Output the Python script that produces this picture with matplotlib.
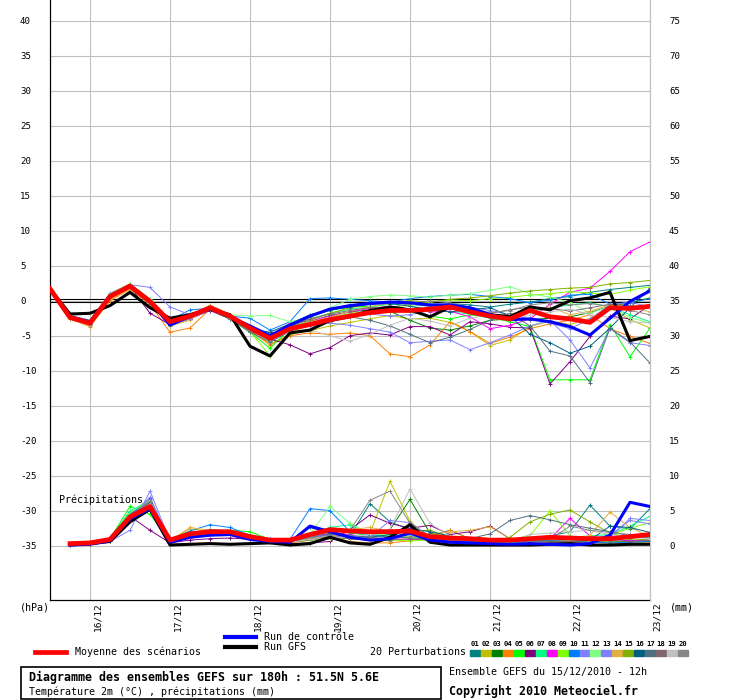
import matplotlib
matplotlib.use("Agg")
import matplotlib.pyplot as plt
import matplotlib.transforms as mtransforms
from matplotlib.lines import Line2D
from matplotlib.patches import Rectangle
import numpy as np

W, H = 740, 700  # figure size in pixels

# time axis: run of 15/12/2010 12h, every 6h up to 180h
hours = np.arange(0, 181, 6)
day_hours = np.arange(12, 181, 24)
day_labels = ["16/12", "17/12", "18/12", "19/12", "20/12", "21/12", "22/12", "23/12"]

temp_ticks = list(range(-35, 41, 5))
precip_ticks = list(range(0, 76, 5))

member_names = ["01", "02", "03", "04", "05", "06", "07", "08", "09", "10",
                "11", "12", "13", "14", "15", "16", "17", "18", "19", "20"]
member_colors = ["#008080", "#c0c000", "#008000", "#ff8000", "#00ff00",
                 "#800080", "#00ff80", "#ff00ff", "#80ff00", "#0080ff",
                 "#8080ff", "#80ff80", "#8080ff", "#e0b040", "#80b000",
                 "#006080", "#507080", "#806870", "#c0c0c0", "#888888"]

# 2m temperature (°C), 31 steps
temp_mean = [1.7, -2.4, -3.2, 0.6, 2.1, -0.1, -3.0, -2.2, -1.0, -2.2, -3.9,
             -5.4, -4.0, -3.4, -2.7, -2.2, -1.7, -1.4, -1.4, -1.2, -0.9,
             -1.6, -2.2, -2.6, -1.4, -2.3, -2.6, -3.1, -1.0, -1.1, -0.8]
temp_gfs = [1.7, -1.9, -1.8, -0.7, 1.2, -1.0, -2.5, -2.0, -1.2, -2.0, -6.5,
            -7.9, -4.6, -4.2, -2.8, -2.3, -1.4, -0.9, -1.3, -2.3, -0.9,
            -1.3, -2.0, -2.3, -0.9, -1.3, 0.0, 0.4, 1.2, -5.7, -5.1]
temp_ctrl = [1.7, -2.3, -3.0, 0.7, 2.1, 0.0, -3.5, -2.2, -1.0, -2.3, -3.6,
             -5.0, -3.5, -2.2, -1.2, -0.7, -0.4, -0.2, -0.3, -0.6, -0.6,
             -1.0, -2.0, -2.7, -2.6, -3.0, -3.7, -4.9, -2.5, -0.1, 1.4]

t01 = [1.7, -2.2, -3.0, 0.9, 2.3, 0.2, -3.3, -2.3, -1.1, -2.3, -4.0, -5.3, -3.6, -2.3, -1.2, -0.6,
       -0.3, -0.2, -0.5, -0.8, -0.4, -0.6, -0.9, -0.5, -0.2, 0.3, 0.6, 1.2, 1.6, 1.9, 2.2]
t02 = [1.7, -2.5, -3.5, 0.3, 1.8, -0.6, -3.5, -2.6, -1.3, -2.6, -4.3, -6.2, -4.8, -4.3, -3.6, -3.1,
       -2.6, -2.1, -2.6, -2.5, -3.1, -4.4, -6.4, -5.6, -3.7, -2.9, -3.4, -2.5, -1.0, -2.7, -3.9]
t03 = [1.7, -2.3, -3.1, 0.7, 2.2, -0.2, -3.1, -2.3, -1.0, -2.4, -4.0, -5.7, -4.2, -3.0, -2.1, -1.6,
       -1.3, -1.5, -2.8, -3.9, -4.2, -3.6, -2.8, -2.6, -2.7, -2.5, -2.3, -1.7, -0.8, -0.3, 0.4]
t04 = [1.7, -2.6, -3.7, 0.0, 1.6, -0.5, -4.5, -3.9, -1.2, -2.5, -4.3, -6.3, -5.0, -4.6, -4.8, -4.6,
       -5.0, -7.6, -8.0, -6.3, -3.0, -4.4, -6.1, -5.2, -4.0, -3.3, -2.8, -2.0, -4.0, -5.1, -6.1]
t05 = [1.7, -2.3, -2.9, 1.0, 2.4, 0.0, -3.6, -2.5, -1.3, -2.6, -4.5, -6.8, -4.0, -2.2, -1.4, -0.9,
       -0.8, -1.2, -1.6, -2.2, -2.6, -2.0, -2.4, -3.0, -3.7, -11.3, -11.3, -11.3, -3.4, -8.0, -3.9]
t06 = [1.7, -2.4, -3.3, 0.7, 2.0, -1.8, -3.4, -2.6, -1.4, -2.6, -4.3, -5.5, -6.3, -7.6, -6.7, -5.0,
       -4.6, -4.9, -3.7, -3.7, -4.9, -3.0, -3.3, -3.8, -3.9, -11.9, -8.7, -5.1, -2.2, -2.6, -0.6]
t07 = [1.7, -2.3, -3.1, 0.8, 2.2, 0.1, -3.2, -2.4, -1.0, -2.3, -4.0, -5.8, -3.5, -2.6, -1.8, -1.2,
       -0.9, -0.5, -0.7, -1.3, -1.6, -1.9, -2.5, -2.2, -1.6, -1.0, -0.6, -0.3, -0.9, -2.0, -3.0]
t08 = [1.7, -2.4, -3.2, 0.6, 2.1, -0.3, -3.3, -2.2, -0.9, -2.1, -3.8, -5.0, -3.2, -2.9, -2.2, -1.6,
       -1.1, -0.8, -1.2, -1.6, -1.5, -2.3, -4.0, -3.5, -2.6, -0.5, 1.2, 1.8, 4.2, 7.0, 8.4]
t09 = [1.7, -2.5, -3.4, 0.5, 2.0, -0.4, -3.4, -2.5, -1.2, -2.5, -4.4, -7.9, -4.6, -3.4, -2.4, -1.8,
       -1.5, -1.0, -0.6, -0.2, 0.1, 0.0, 0.3, 0.5, 0.8, 1.0, 1.3, 1.1, 0.9, 1.5, 2.0]
t10 = [1.7, -2.2, -2.9, 0.9, 2.3, 0.1, -2.8, -1.3, -1.1, -2.2, -2.5, -4.2, -3.0, 0.3, 0.4, 0.2,
       0.0, -0.2, 0.3, 0.6, 0.8, 0.9, 0.6, 0.3, -0.3, 0.1, 0.8, 0.9, -0.5, -0.3, 0.3]
t11 = [1.7, -2.1, -2.8, 1.1, 2.3, 1.9, -0.9, -2.0, -1.2, -2.0, -3.8, -4.6, -4.3, -3.6, -3.2, -3.5,
       -4.0, -4.5, -6.0, -5.8, -5.6, -7.0, -6.0, -4.9, -3.6, -2.8, -5.6, -9.6, -4.0, -6.0, -6.4]
t12 = [1.7, -2.2, -2.8, 1.0, 2.4, 0.3, -3.0, -2.0, -0.8, -2.0, -2.2, -2.1, -3.0, -2.4, -1.0, 0.2,
       0.6, 0.8, 0.7, 0.5, 0.8, 1.0, 1.5, 2.0, 1.0, 0.5, -0.2, -1.8, -0.8, -2.4, -3.2]
t13 = [1.7, -2.4, -3.3, 0.5, 2.0, -0.5, -3.4, -2.6, -1.3, -2.4, -4.3, -5.2, -4.2, -3.1, -2.5, -2.0,
       -1.9, -2.2, -2.0, -1.4, -1.0, -0.9, -1.4, -2.0, -2.6, -3.2, -4.0, -2.6, -0.6, -0.2, -0.9]
t14 = [1.7, -2.6, -3.6, 0.1, 1.7, -0.3, -3.6, -2.8, -0.6, -2.0, -3.7, -5.0, -3.9, -3.0, -2.4, -1.5,
       -0.8, -0.4, -0.2, -0.6, -0.8, -1.7, -2.0, -1.9, -1.3, -0.9, -2.0, -1.5, -0.6, -0.9, -1.6]
t15 = [1.7, -2.3, -3.1, 0.7, 2.2, -0.1, -3.1, -2.2, -1.0, -2.2, -3.9, -5.6, -3.9, -2.8, -1.8, -1.0,
       -0.5, -0.2, 0.0, -0.2, 0.2, 0.4, 0.7, 1.1, 1.4, 1.6, 1.8, 1.9, 2.4, 2.6, 2.9]
t16 = [1.7, -2.4, -3.2, 0.6, 2.2, 0.0, -3.2, -2.3, -1.1, -2.5, -4.1, -4.5, -3.3, -2.0, -1.3, -0.9,
       -0.5, -0.4, -0.8, -1.3, -1.6, -1.3, -1.0, -2.2, -4.8, -6.0, -7.5, -6.5, -3.9, -1.0, 1.8]
t17 = [1.7, -2.4, -3.3, 0.5, 2.0, -0.4, -3.3, -2.4, -1.2, -2.6, -4.5, -5.9, -4.4, -3.2, -2.6, -2.3,
       -2.8, -3.6, -4.8, -6.0, -5.2, -4.1, -2.8, -1.8, -3.6, -7.2, -7.9, -11.7, -3.9, -5.9, -8.9]
t18 = [1.7, -2.3, -3.1, 0.8, 2.1, -0.2, -3.1, -2.2, -1.0, -2.3, -4.0, -5.3, -3.7, -2.6, -1.9, -1.4,
       -1.0, -0.9, -1.2, -1.5, -1.2, -1.4, -1.8, -1.3, -0.9, -1.1, -1.5, -1.0, -0.5, -0.7, -0.9]
t19 = [1.7, -2.4, -3.2, 0.6, 2.1, -0.3, -3.2, -2.3, -1.1, -2.4, -4.1, -5.4, -4.5, -4.2, -5.0, -5.8,
       -4.8, -3.5, -2.5, -2.9, -3.6, -2.5, -2.0, -2.6, -2.1, -1.6, -1.2, -2.0, -2.4, -3.0, -3.2]
t20 = [1.7, -2.5, -3.4, 0.4, 2.0, -0.2, -3.5, -2.4, -1.1, -2.3, -4.2, -4.9, -3.9, -3.5, -3.1, -2.2,
       -1.6, -1.0, -0.4, 0.0, -0.3, -1.0, -1.7, -1.4, -0.6, -0.3, -0.6, -0.4, -0.8, -1.4, -2.0]
temp_members = [t01, t02, t03, t04, t05, t06, t07, t08, t09, t10,
                t11, t12, t13, t14, t15, t16, t17, t18, t19, t20]

# 6h precipitation (mm), steps 6h..180h
precip_mean = [0.3, 0.4, 0.9, 4.1, 5.6, 0.8, 1.7, 2.0, 2.0, 1.3, 0.8, 0.8, 1.6, 2.3, 2.1,
               2.0, 2.0, 2.1, 1.3, 1.1, 1.0, 0.8, 0.8, 1.0, 1.2, 1.1, 1.0, 1.0, 1.3, 1.6]
precip_gfs = [0.1, 0.3, 0.6, 3.4, 5.2, 0.1, 0.2, 0.3, 0.2, 0.3, 0.4, 0.1, 0.3, 1.2, 0.4,
              0.2, 1.2, 3.0, 0.5, 0.1, 0.1, 0.1, 0.1, 0.1, 0.2, 0.3, 0.1, 0.1, 0.2, 0.2]
precip_ctrl = [0.1, 0.2, 0.7, 3.8, 5.3, 0.5, 1.2, 1.5, 1.6, 0.9, 0.6, 0.5, 2.8, 2.0, 1.2,
               0.8, 1.0, 1.8, 0.8, 0.5, 0.4, 0.3, 0.2, 0.3, 0.2, 0.1, 0.3, 1.5, 6.2, 5.6]

p01 = [0.2, 0.4, 0.9, 4.5, 6.8, 0.6, 1.6, 2.3, 2.1, 1.2, 0.9, 0.7, 1.2, 2.0, 1.4,
       6.0, 3.4, 2.3, 1.4, 2.2, 1.0, 0.7, 0.8, 1.0, 1.4, 2.0, 5.8, 2.8, 2.4, 5.3]
p02 = [0.2, 0.4, 0.8, 4.4, 6.2, 0.7, 2.4, 2.1, 1.8, 1.3, 0.8, 0.6, 1.0, 1.4, 2.0,
       1.8, 9.2, 3.5, 1.0, 0.8, 0.6, 0.5, 0.6, 0.8, 1.0, 0.9, 0.8, 0.7, 0.6, 0.5]
p03 = [0.2, 0.3, 1.0, 4.8, 6.0, 0.6, 1.5, 1.9, 1.7, 1.0, 0.7, 0.5, 1.5, 1.6, 1.2,
       1.0, 2.3, 6.6, 1.8, 1.2, 0.6, 0.4, 0.5, 0.6, 0.7, 0.6, 0.5, 0.6, 0.7, 0.8]
p04 = [0.2, 0.3, 0.6, 3.6, 5.7, 0.5, 1.1, 1.9, 1.8, 1.1, 0.6, 0.4, 0.8, 1.2, 0.6,
       0.4, 0.4, 0.7, 1.2, 2.2, 1.0, 0.6, 0.4, 0.3, 0.4, 0.5, 0.5, 0.4, 0.3, 0.4]
p05 = [0.2, 0.4, 1.0, 5.6, 4.5, 0.6, 1.5, 2.0, 2.2, 2.0, 0.9, 0.6, 1.4, 2.4, 1.8,
       1.5, 1.4, 1.2, 1.7, 0.9, 0.5, 0.4, 0.5, 0.6, 0.8, 0.7, 0.6, 0.5, 0.5, 0.6]
p06 = [0.1, 0.3, 0.6, 4.2, 2.2, 0.4, 0.8, 1.0, 1.1, 0.9, 0.5, 0.3, 0.4, 0.6, 2.3,
       4.4, 3.2, 2.5, 2.9, 1.6, 2.0, 2.8, 1.0, 0.7, 0.6, 0.6, 0.8, 0.9, 0.7, 0.7]
p07 = [0.2, 0.4, 0.9, 5.0, 6.4, 0.7, 1.7, 2.2, 2.1, 1.4, 0.9, 0.7, 1.6, 2.6, 3.0,
       1.6, 1.4, 1.3, 1.0, 0.8, 0.7, 0.6, 0.8, 0.9, 1.0, 1.2, 1.4, 1.6, 2.8, 4.2]
p08 = [0.2, 0.4, 0.8, 4.3, 6.6, 0.7, 1.8, 2.0, 1.9, 1.3, 0.9, 0.7, 1.2, 1.8, 1.6,
       1.1, 1.0, 0.9, 1.0, 0.8, 0.7, 0.6, 0.7, 0.9, 1.0, 3.9, 1.4, 0.8, 0.8, 0.6]
p09 = [0.2, 0.4, 0.8, 4.0, 5.4, 0.6, 1.5, 1.8, 1.9, 1.6, 0.7, 0.5, 0.8, 1.0, 1.2,
       1.0, 0.8, 0.7, 0.8, 0.6, 0.5, 0.6, 0.8, 1.4, 5.0, 1.4, 0.9, 1.5, 2.5, 3.3]
p10 = [0.2, 0.4, 0.9, 4.6, 6.3, 0.8, 2.1, 3.0, 2.6, 1.5, 1.0, 0.9, 5.3, 5.0, 2.0,
       1.5, 1.2, 1.4, 0.9, 0.6, 0.5, 0.4, 0.6, 0.7, 0.5, 0.6, 0.5, 0.4, 0.5, 0.6]
p11 = [0.2, 0.3, 0.6, 2.2, 7.8, 0.7, 1.4, 1.8, 1.7, 1.2, 0.7, 0.5, 0.9, 1.3, 1.5,
       1.3, 2.2, 2.0, 1.4, 1.0, 0.8, 0.6, 0.5, 0.6, 0.7, 0.8, 0.9, 1.2, 3.9, 3.6]
p12 = [0.2, 0.4, 0.9, 4.7, 6.5, 0.7, 1.6, 2.0, 1.9, 1.3, 0.8, 0.6, 1.6, 5.6, 3.2,
       1.7, 1.5, 1.2, 1.0, 0.7, 0.6, 0.5, 0.6, 0.8, 0.9, 0.8, 0.7, 0.6, 1.0, 1.9]
p13 = [0.2, 0.4, 0.8, 3.8, 6.9, 0.6, 1.4, 1.9, 1.8, 1.2, 0.7, 0.6, 1.1, 1.5, 1.3,
       1.2, 3.6, 3.3, 1.3, 0.9, 0.6, 0.5, 0.7, 0.8, 1.1, 1.2, 1.0, 1.5, 3.6, 3.1]
p14 = [0.2, 0.4, 0.8, 4.2, 6.0, 0.7, 2.6, 2.2, 1.9, 1.2, 0.8, 0.6, 1.0, 1.2, 2.3,
       2.6, 2.1, 1.2, 1.6, 2.0, 2.2, 2.7, 1.0, 0.5, 0.6, 0.7, 1.5, 4.8, 2.6, 1.3]
p15 = [0.2, 0.3, 0.7, 3.9, 5.8, 0.6, 1.4, 1.7, 1.6, 1.1, 0.7, 0.5, 0.8, 1.3, 1.0,
       0.8, 0.7, 2.1, 2.2, 1.2, 0.9, 0.6, 1.2, 3.4, 4.5, 5.1, 3.4, 1.8, 1.0, 0.8]
p16 = [0.2, 0.4, 0.9, 4.4, 6.1, 0.6, 1.5, 2.1, 2.0, 1.2, 0.8, 0.6, 2.6, 1.8, 1.4,
       1.2, 1.6, 2.4, 2.0, 1.4, 1.0, 0.8, 0.7, 0.6, 0.7, 0.6, 0.8, 2.8, 2.6, 1.9]
p17 = [0.2, 0.4, 0.9, 4.3, 6.0, 0.6, 1.6, 2.0, 1.9, 1.2, 0.8, 0.6, 1.2, 1.6, 1.4,
       1.2, 1.3, 1.1, 1.0, 0.9, 1.0, 1.7, 3.6, 4.3, 3.7, 3.0, 2.5, 2.0, 1.4, 1.1]
p18 = [0.2, 0.3, 0.8, 4.0, 6.3, 0.6, 1.5, 1.9, 1.8, 1.1, 0.7, 0.5, 0.9, 1.2, 1.0,
       0.9, 0.8, 1.0, 0.8, 0.7, 0.6, 0.5, 0.6, 0.6, 0.5, 0.6, 0.5, 0.7, 0.6, 0.8]
p19 = [0.2, 0.4, 0.8, 4.1, 6.0, 0.6, 1.5, 1.8, 1.7, 1.1, 0.7, 0.5, 0.9, 1.1, 1.3,
       1.6, 2.4, 8.1, 3.2, 1.4, 1.0, 0.8, 0.7, 1.6, 1.8, 2.0, 2.2, 1.6, 1.2, 1.0]
p20 = [0.2, 0.4, 0.9, 4.3, 6.4, 0.7, 1.6, 2.3, 2.0, 1.2, 0.8, 0.6, 1.3, 1.9, 2.2,
       6.5, 7.8, 3.2, 1.3, 1.0, 0.8, 0.6, 0.7, 0.8, 0.9, 2.8, 2.2, 1.9, 1.6, 1.5]
precip_members = [p01, p02, p03, p04, p05, p06, p07, p08, p09, p10,
                  p11, p12, p13, p14, p15, p16, p17, p18, p19, p20]


def fx(px):
    return px / W


def fy(py):
    return 1 - py / H


plt.rcParams["font.family"] = ["DejaVu Sans Mono"]
GRID = "#c0c0c0"

fig = plt.figure(figsize=(W / 100, H / 100), dpi=100)
# plot area: x 50..650 px, y 0..600 px ; 7 px per degree, 40°C at y=20.7
ax = fig.add_axes([fx(50), fy(600), 600 / W, 600 / H])
t_top = 300.7 / 7
t_bot = (300.7 - 600) / 7
ax.set_xlim(0, 180)
ax.set_ylim(t_bot, t_top)

ax2 = ax.twinx()
ax2.set_ylim(t_bot + 35, t_top + 35)  # precipitation axis: 0 mm on -35 °C

# grid
for t in temp_ticks:
    ax.axhline(t, color=GRID, lw=0.8, zorder=0)
for h in day_hours:
    ax.axvline(h, color=GRID, lw=0.8, zorder=0)
ax.axhline(0.2, color="black", lw=0.8, zorder=1)
ax.axhline(-0.2, color="black", lw=0.8, zorder=1)

pr_hours = hours[1:]
for k in range(20):
    ax.plot(hours, temp_members[k], color=member_colors[k], lw=0.7,
            marker="+", ms=2.5, mew=0.7, zorder=2)
    ax2.plot(pr_hours, precip_members[k], color=member_colors[k], lw=0.7,
             marker="+", ms=2.5, mew=0.7, zorder=2)

ax.plot(hours, temp_gfs, color="black", lw=2.2, zorder=3)
ax.plot(hours, temp_ctrl, color="#0000ff", lw=2.2, zorder=3)
ax.plot(hours, temp_mean, color="#ff0000", lw=3.4, zorder=4)
ax2.plot(pr_hours, precip_gfs, color="black", lw=2.2, zorder=3)
ax2.plot(pr_hours, precip_ctrl, color="#0000ff", lw=2.2, zorder=3)
ax2.plot(pr_hours, precip_mean, color="#ff0000", lw=3.4, zorder=4)

# spines
for a in (ax, ax2):
    a.spines["top"].set_visible(False)
    a.spines["right"].set_color(GRID)
    a.spines["right"].set_linewidth(0.8)
    a.spines["left"].set_linewidth(0.9)
    a.spines["bottom"].set_linewidth(0.9)
ax2.spines["left"].set_visible(False)
ax2.spines["bottom"].set_visible(False)

# ticks
ax.set_yticks(temp_ticks, labels=[str(t) for t in temp_ticks], ha="left")
ax.tick_params(axis="y", length=0, pad=21.6, labelsize=6.6)
ax2.set_yticks(precip_ticks, labels=[str(p) for p in precip_ticks])
ax2.tick_params(axis="y", length=0, pad=13.7, labelsize=6.6)
ax.set_xticks(day_hours, labels=day_labels, rotation=90, ha="center")
ax.tick_params(axis="x", length=0, pad=1.5, labelsize=6.8)
shift = mtransforms.ScaledTranslation(7.5 / 100, 0, fig.dpi_scale_trans)
for lab in ax.get_xticklabels():
    lab.set_transform(lab.get_transform() + shift)

fs = 7.2
fig.text(fx(20), fy(607), "(hPa)", fontsize=fs, va="center")
fig.text(fx(670), fy(607), "(mm)", fontsize=fs, va="center")
fig.text(fx(59), fy(500), "Précipitations", fontsize=fs, va="center")

# legend
fig.add_artist(Line2D([fx(35), fx(66)], [fy(652)] * 2, color="#ff0000", lw=3.4))
fig.text(fx(75), fy(652), "Moyenne des scénarios", fontsize=fs, va="center")
fig.add_artist(Line2D([fx(225), fx(256)], [fy(637)] * 2, color="#0000ff", lw=3.0))
fig.text(fx(264), fy(637), "Run de contrôle", fontsize=fs, va="center")
fig.add_artist(Line2D([fx(225), fx(256)], [fy(647)] * 2, color="black", lw=3.0))
fig.text(fx(264), fy(647), "Run GFS", fontsize=fs, va="center")
fig.text(fx(370), fy(652), "20 Perturbations", fontsize=fs, va="center")
for k in range(20):
    x0 = 470 + k * 10.95
    fig.add_artist(Rectangle((fx(x0), fy(656)), 10 / W, 6 / H,
                             transform=fig.transFigure, color=member_colors[k]))
    fig.text(fx(x0 + 5), fy(643.5), member_names[k], fontsize=5.2,
             fontweight="bold", ha="center", va="center")

# title box
fig.add_artist(Rectangle((fx(20.5), fy(699)), 420 / W, 32 / H, transform=fig.transFigure,
                         fill=False, edgecolor="black", lw=1.2))
fig.text(fx(29), fy(677.5), "Diagramme des ensembles GEFS sur 180h : 51.5N 5.6E",
         fontsize=8.4, fontweight="bold", va="center")
fig.text(fx(29), fy(691.5), "Température 2m (°C) , précipitations (mm)",
         fontsize=fs, va="center")
fig.text(fx(449), fy(672), "Ensemble GEFS du 15/12/2010 - 12h", fontsize=fs, va="center")
fig.text(fx(449), fy(691.5), "Copyright 2010 Meteociel.fr", fontsize=8.4,
         fontweight="bold", va="center")

fig.savefig("out.png", dpi=100, facecolor="white")
